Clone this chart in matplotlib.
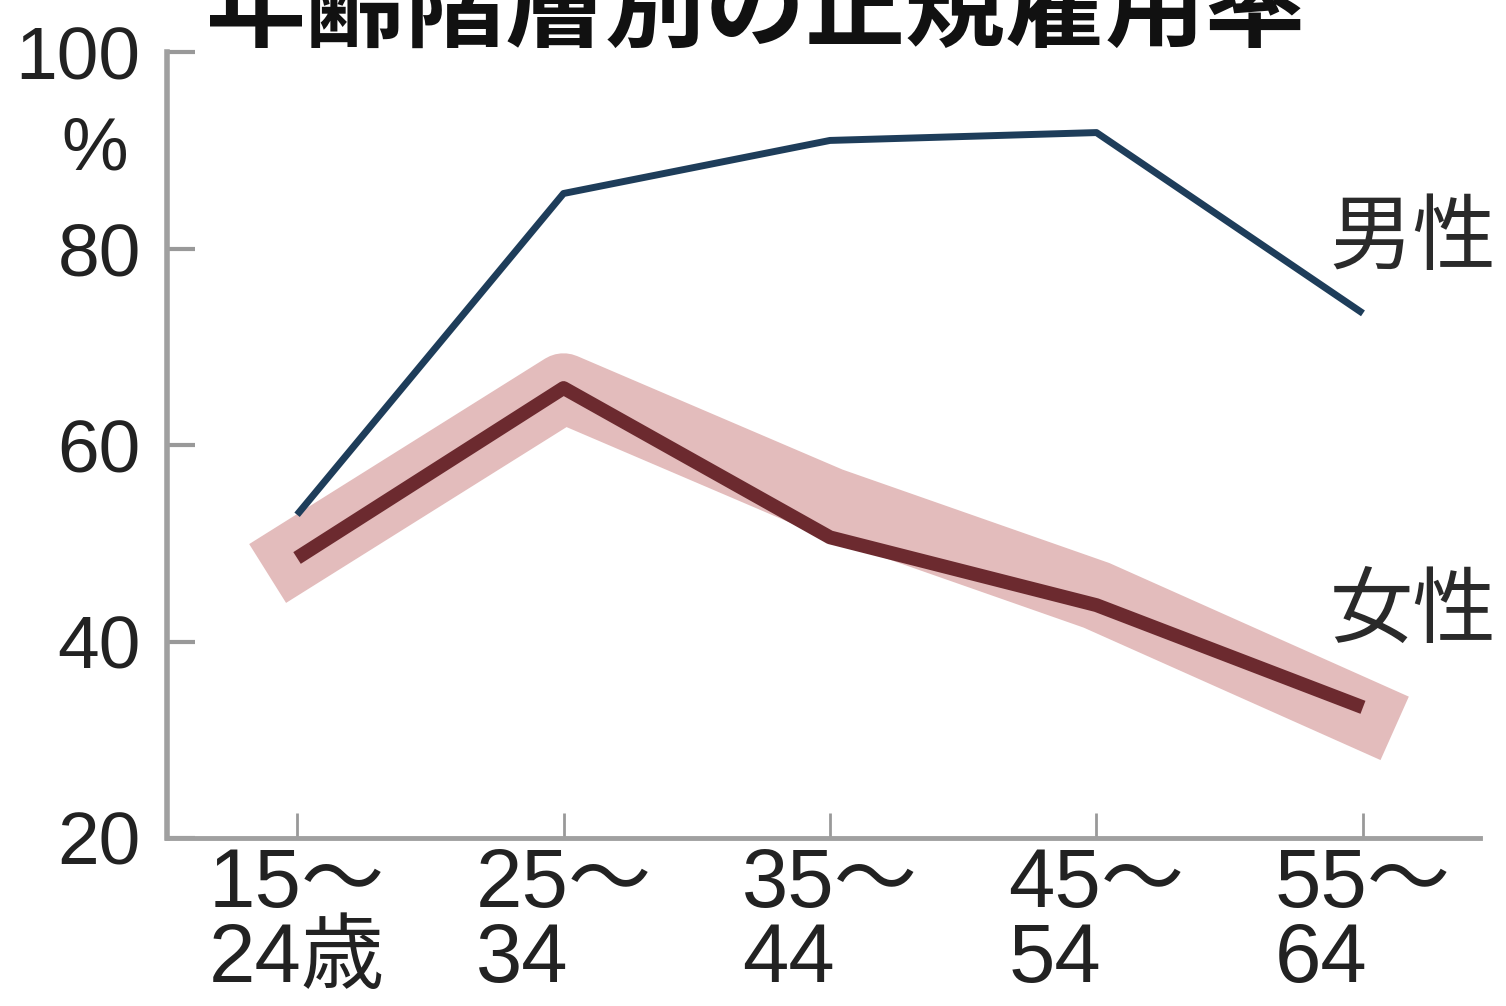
import matplotlib.pyplot as plt

plt.rcParams['font.family'] = ['Liberation Sans', 'Noto Sans CJK JP', 'DejaVu Sans']

# 年齢階層別の正規雇用率 (%)
age_labels = ["15〜\n24歳", "25〜\n34", "35〜\n44", "45〜\n54", "55〜\n64"]
men = [52.9, 85.6, 91.0, 91.8, 73.4]
women = [48.5, 65.8, 50.6, 43.7, 33.3]
# pink highlight band drawn behind the women's line
women_band = [48.8, 65.8, 54.2, 44.7, 32.6]

fig = plt.figure(figsize=(15.06, 10.06), dpi=100)
ax = fig.add_axes([0.1109, 0.1670, 0.8718, 0.7813])

x = list(range(len(age_labels)))

ax.plot(x, women_band, color="#e3bcbc", linewidth=50, solid_capstyle="projecting",
        solid_joinstyle="round", zorder=1)
ax.plot(x, women, color="#6c2a2f", linewidth=10, solid_capstyle="butt",
        solid_joinstyle="round", zorder=3)
ax.plot(x, men, color="#1e3d5a", linewidth=5, solid_capstyle="butt", zorder=3)

ax.set_xlim(-0.488, 4.439)
ax.set_ylim(20, 100)
ax.set_yticks([20, 40, 60, 80, 100])
ax.set_xticks(x)
ax.set_xticklabels(age_labels, fontsize=60, color="#222222", linespacing=0.95,
                   multialignment="left")
ax.tick_params(axis="y", direction="in", length=20, width=3, color="#999999",
               labelsize=54, labelcolor="#222222", pad=19)
ax.tick_params(axis="x", direction="in", length=18, width=2, color="#999999", pad=6)

for side in ["top", "right"]:
    ax.spines[side].set_visible(False)
ax.spines["left"].set_color("#a0a0a0")
ax.spines["left"].set_linewidth(4)
ax.spines["bottom"].set_color("#a0a0a0")
ax.spines["bottom"].set_linewidth(3.5)

# unit under the top tick
fig.text(0.063, 0.851, "%", fontsize=54, color="#222222", ha="center", va="center")

# series names at the right end
ax.text(3.875, 81.0, "男性", fontsize=60, color="#2a2a2a", ha="left", va="center",
        family=["Noto Sans CJK JP"])
ax.text(3.875, 43.0, "女性", fontsize=60, color="#2a2a2a", ha="left", va="center",
        family=["Noto Sans CJK JP"])

fig.text(0.136, 0.940, "年齢階層別の正規雇用率", fontsize=72, fontweight="bold",
         color="#111111", ha="left", va="bottom", family=["Noto Sans CJK JP"])

fig.savefig("out.png", dpi=100)
